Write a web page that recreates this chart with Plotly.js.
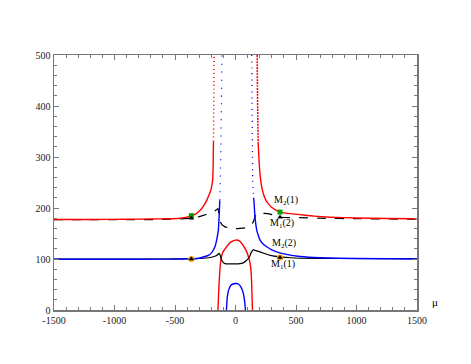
<!DOCTYPE html>
<html><head><meta charset="utf-8">
<script src="https://cdn.plot.ly/plotly-3.0.1.min.js"></script>
<style>html,body{margin:0;padding:0;background:#fff;}#chart{width:471px;height:364px;}</style>
</head><body><div id="chart"></div>
<script>
// Tick values and labels
const xTickVals = [-1500, -1000, -500, 0, 500, 1000, 1500];
const xTickText = ['-1500', '-1000', '-500', '0', '500', '1000', '1500'];
const yTickVals = [0, 100, 200, 300, 400, 500];
const yTickText = ['0', '100', '200', '300', '400', '500'];

// M2(1): red upper curve (solid parts and steep dotted parts)
const redLeftX  = [-1500, -1200, -900, -700, -560, -459, -400, -363, -330, -294, -266, -238, -220, -205, -196, -189, -185, -182];
const redLeftY  = [177.5, 177.5, 178, 178.5, 179, 180, 182, 185, 188, 195, 203, 215, 225, 234, 244, 254, 280, 330];
const redLeftDotX = [-182, -180, -178, -177];
const redLeftDotY = [330, 390, 445, 500];
const redRightDotX = [179, 181, 184, 187];
const redRightDotY = [500, 440, 380, 330];
const redRightX = [187, 198, 208, 218, 230, 250, 272, 300, 341, 368, 400, 451, 534, 650, 782, 1000, 1250, 1500];
const redRightY = [330, 280, 254, 240, 228, 216, 208, 201, 195, 192, 190.5, 189, 187, 184, 182, 180.5, 179.5, 179];

// M2(2): blue upper curve
const blueLeftX = [-1500, -1000, -600, -450, -321, -280, -225, -195, -170, -155, -142, -136, -132, -130];
const blueLeftY = [99.5, 99.5, 99.7, 100, 101, 103, 107, 113, 124, 138, 156, 180, 202, 215];
const blueLeftDotX = [-130, -126, -121, -116, -112];
const blueLeftDotY = [215, 254, 320, 410, 500];
const blueRightDotX = [134, 137, 140, 142, 150];
const blueRightDotY = [500, 410, 320, 254, 220];
const blueRightX = [150, 153, 161, 168, 176, 190, 203, 230, 258, 300, 341, 400, 534, 700, 1000, 1500];
const blueRightY = [220, 212, 182, 168, 156, 145, 137, 129, 124, 118, 114, 110, 105, 102.5, 101, 100];

// M1(2): black dashed curve
const blackDashX = [-1500, -1000, -600, -459, -365, -300, -266, -220, -184, -160, -145, -138, -128, -114, -100, -87, -50, 0, 37, 80, 115, 132, 147, 160, 176, 200, 230, 266, 300, 368, 450, 534, 700, 1000, 1500];
const blackDashY = [177, 177, 177.5, 178.5, 180, 183, 185.5, 189, 192, 196, 199, 188, 174, 168, 165, 163, 161, 159.5, 160, 161, 163, 167, 173, 182, 190, 190, 189.5, 189, 187, 182, 181, 181, 180, 179, 178];

// M1(1): black solid curve
const blackSolidX = [-1500, -1000, -600, -365, -300, -238, -190, -156, -134, -124, -114, -100, -87, -50, 0, 37, 60, 90, 115, 130, 147, 160, 203, 250, 286, 368, 450, 534, 800, 1500];
const blackSolidY = [100, 100, 100, 100.5, 101, 102, 104, 107, 111, 105, 98, 93, 91, 90.5, 90.5, 91, 92, 97, 104, 113, 118.5, 117, 114, 110, 107, 104, 102.5, 101.5, 101, 100.5];

// Lower red arch
const redArchX = [-148, -145, -138, -130, -120, -105, -73, -40, 0, 30, 60, 93, 110, 120, 128, 134, 140, 143];
const redArchY = [-20, 0, 40, 75, 100, 113, 124, 133, 137, 136, 128, 114, 102, 92, 78, 50, 0, -20];

// Lower blue arch
const blueArchX = [-78, -75, -68, -58, -40, -15, 4, 25, 45, 62, 75, 82, 85];
const blueArchY = [-10, 0, 25, 38, 48, 51.5, 52, 51, 45, 35, 18, 0, -10];

// Special points
const greenX = [-365, 368];
const greenY = [185, 192];
const orangeX = [-365, 368];
const orangeY = [100, 103];
const triX = [-365, 368, -365, 368];
const triY = [180, 182, 100, 103];

// Curve labels
const labelText = ['M<sub>2</sub>(1)', 'M<sub>1</sub>(2)', 'M<sub>2</sub>(2)', 'M<sub>1</sub>(1)'];
const labelX = [300, 272, 286, 280];
const labelY = [215, 169, 130, 90];

const SERIF = 'Liberation Serif';
const RED = '#ff0000', BLUE = '#0000ff', BLK = '#000000';
function ln(x, y, color, dash, width) {
  return {x: x, y: y, type: 'scatter', mode: 'lines', hoverinfo: 'skip',
    line: {color: color, width: width || 1.4, dash: dash || 'solid', shape: 'spline', smoothing: 0.5}};
}
const traces = [
  ln(redArchX, redArchY, RED),
  ln(blueArchX, blueArchY, BLUE),
  ln(blackDashX, blackDashY, BLK, 'dash', 1.2),
  ln(blackSolidX, blackSolidY, BLK, 'solid', 1.2),
  ln(blueLeftX, blueLeftY, BLUE),
  ln(blueLeftDotX, blueLeftDotY, BLUE, '1px,7px', 1.3),
  ln(blueRightDotX, blueRightDotY, BLUE, '1px,5px', 1.3),
  ln(blueRightX, blueRightY, BLUE),
  ln(redLeftX, redLeftY, RED),
  ln(redLeftDotX, redLeftDotY, RED, '1px,3px', 1.5),
  ln(redRightDotX, redRightDotY, RED, '2px,1px', 1.5),
  ln(redRightX, redRightY, RED),
  {x: orangeX, y: orangeY, type: 'scatter', mode: 'markers', marker: {symbol: 'circle', size: 6, color: '#ffa500'}},
  {x: greenX, y: greenY, type: 'scatter', mode: 'markers', marker: {symbol: 'square', size: 5, color: '#00a000'}},
  {x: triX, y: triY, type: 'scatter', mode: 'markers', marker: {symbol: 'triangle-up', size: 5, color: '#000'}}
];

function axis(extra) {
  return Object.assign({
    showgrid: false, zeroline: false, showline: true, linecolor: '#777', linewidth: 1.5,
    mirror: 'allticks', ticks: 'inside', ticklen: 5, tickwidth: 1, tickcolor: '#777',
    tickfont: {family: SERIF, size: 10, color: '#222'},
    tickmode: 'array', fixedrange: true
  }, extra);
}
const layout = {
  width: 471, height: 364,
  font: {family: SERIF, size: 10, color: '#222'},
  margin: {l: 54, r: 54, t: 55, b: 54},
  paper_bgcolor: '#fff', plot_bgcolor: '#fff',
  showlegend: false,
  xaxis: axis({range: [-1500, 1500], tickvals: xTickVals, ticktext: xTickText,
    minor: {tickmode: 'linear', tick0: -1500, dtick: 100, ticks: 'inside', ticklen: 3, tickcolor: '#777', tickwidth: 1}}),
  yaxis: axis({range: [0, 500], tickvals: yTickVals, ticktext: yTickText,
    minor: {tickmode: 'linear', tick0: 0, dtick: 20, ticks: 'inside', ticklen: 3, tickcolor: '#777', tickwidth: 1}}),
  annotations: labelText.map(function (t, i) {
    return {x: labelX[i], y: labelY[i], xref: 'x', yref: 'y', text: t, showarrow: false,
      xanchor: 'left', yanchor: 'middle',
      font: {family: SERIF, size: 10, color: '#000'}};
  }).concat([{x: 1.035, y: 0.03, xref: 'paper', yref: 'paper', text: 'μ', showarrow: false,
    xanchor: 'left', yanchor: 'middle', font: {family: SERIF, size: 11, color: '#000'}}])
};
Plotly.newPlot('chart', traces, layout, {staticPlot: true, displayModeBar: false});
</script>
</body></html>
